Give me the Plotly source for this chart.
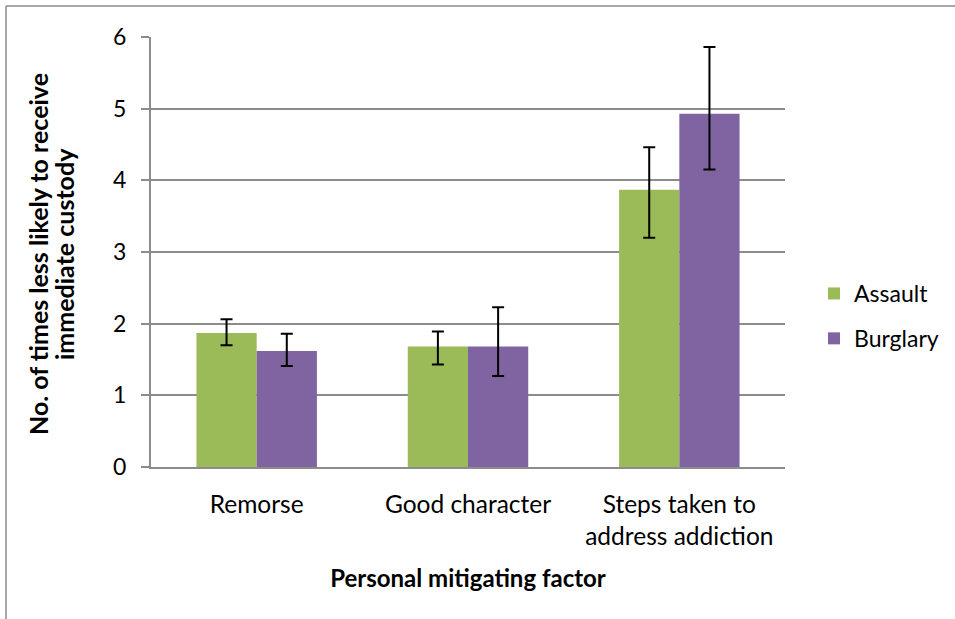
import plotly.graph_objects as go

categories = ["Remorse", "Good character", "Steps taken to<br>address addiction"]
assault = [1.87, 1.68, 3.87]
assault_hi = [2.06, 1.89, 4.46]
assault_lo = [1.70, 1.43, 3.20]
burglary = [1.62, 1.68, 4.93]
burglary_hi = [1.86, 2.23, 5.86]
burglary_lo = [1.41, 1.27, 4.15]
y_ticks = [0, 1, 2, 3, 4, 5, 6]
y_title_lines = ["No. of times less likely to receive", "immediate custody"]
x_title = "Personal mitigating factor"

FONT = "Lato"
GRID = "#8c8c8c"

W, H = 955, 619
ML, MR, MT, MB = 151, 170, 37, 152
PW, PH = W - ML - MR, H - MT - MB


def px_x(p):
    return (p - ML) / PW


def px_y(p):
    return (H - MB - p) / PH


def err(vals, hi, lo):
    return dict(type="data", symmetric=False,
                array=[h - v for h, v in zip(hi, vals)],
                arrayminus=[v - l for v, l in zip(vals, lo)],
                color="black", thickness=2, width=6)


fig = go.Figure()
fig.add_trace(go.Bar(x=categories, y=assault, name="Assault", legendgroup="a",
                     marker=dict(color="#9bbb59", line=dict(width=0)),
                     error_y=err(assault, assault_hi, assault_lo)))
fig.add_trace(go.Bar(x=categories, y=burglary, name="Burglary", legendgroup="b",
                     marker=dict(color="#8064a2", line=dict(width=0)),
                     error_y=err(burglary, burglary_hi, burglary_lo)))

fig.update_layout(
    width=W, height=H,
    margin=dict(l=ML, r=MR, t=MT, b=MB, autoexpand=False),
    paper_bgcolor="white", plot_bgcolor="white",
    barmode="group", bargap=0.43, bargroupgap=0,
    font=dict(family=FONT, size=24, color="black"),
    showlegend=True,
    legend=dict(x=px_x(814), xanchor="left", y=px_y(316), yanchor="middle",
                font=dict(family=FONT, size=23, color="black"),
                itemwidth=30, tracegroupgap=12, bgcolor="rgba(0,0,0,0)",
                traceorder="grouped"),
    xaxis=dict(
        title=dict(text="<b>" + x_title + "</b>",
                   font=dict(family=FONT, size=24), standoff=21),
        showline=True, linecolor=GRID, linewidth=2,
        ticks="", showgrid=False, ticklabelstandoff=15,
        tickfont=dict(family=FONT, size=24.5, color="black"),
    ),
    yaxis=dict(
        range=[0, 6], tickvals=y_ticks, ticktext=[str(t) for t in y_ticks],
        showline=True, linecolor=GRID, linewidth=2,
        ticks="outside", ticklen=8, tickcolor=GRID, tickwidth=2,
        showgrid=True, gridcolor=GRID, gridwidth=2, ticklabelstandoff=10,
        zeroline=False, tickfont=dict(family=FONT, size=23, color="black"),
    ),
)

# y-axis title as two rotated lines
for line, xp in zip(y_title_lines, [38, 64]):
    fig.add_annotation(text="<b>" + line + "</b>", xref="paper", yref="paper",
                       x=px_x(xp), y=px_y(254), xanchor="center", yanchor="middle",
                       textangle=-90, showarrow=False,
                       font=dict(family=FONT, size=25, color="black"))

# outer chart border (top and left edges; frame continues beyond the view)
fig.add_shape(type="line", xref="paper", yref="paper",
              x0=px_x(6), x1=px_x(W + 5), y0=px_y(6), y1=px_y(6),
              line=dict(color="#8a8a8a", width=1.5))
fig.add_shape(type="line", xref="paper", yref="paper",
              x0=px_x(6), x1=px_x(6), y0=px_y(6), y1=px_y(H + 5),
              line=dict(color="#8a8a8a", width=1.5))

fig.write_html("out.html", config={"displayModeBar": False},
               post_script="document.body.style.margin='0';document.body.style.overflow='hidden';")
